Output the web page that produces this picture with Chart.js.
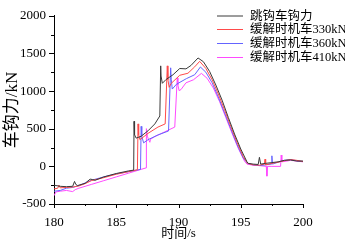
<!DOCTYPE html>
<html>
<head>
<meta charset="utf-8">
<script src="https://cdn.jsdelivr.net/npm/chart.js@4"></script>
<style>
  html, body { margin: 0; padding: 0; background: #fff; }
  canvas { display: block; }
</style>
</head>
<body>
<canvas id="myChart" width="345" height="244"></canvas>
<script>
// series names (legend)
const seriesNames = ['跳钩车钩力', '缓解时机车330kN', '缓解时机车360kN', '缓解时机车410kN'];
const seriesColors = ['#3a3a3a', '#ff4a4a', '#6464ff', '#ff4aff'];

// tick labels
const xTicks = [180, 185, 190, 195, 200];
const yTicks = [-500, 0, 500, 1000, 1500, 2000];

// 跳钩车钩力
const blackT = [180, 180.5, 181, 181.5, 181.65, 181.75, 181.9, 182.5, 182.9, 183.1, 183.3, 184, 185, 186, 186.4,
  186.43, 186.47, 186.6, 187, 187.55, 188.1, 188.5, 188.57, 188.6, 188.7, 189.0, 189.56, 190.1, 190.6, 191.0,
  191.57, 192.0, 192.5, 193.0, 193.5, 194.0, 194.5, 195.0, 195.5, 195.6, 196.0, 196.4, 196.5, 196.6, 197,
  197.5, 198, 198.5, 199, 199.5, 200];
const blackF = [-250, -265, -270, -265, -200, -240, -255, -225, -170, -175, -185, -140, -95, -60, -50,
  598, 420, 375, 400, 472, 564, 669, 1335, 1200, 1103, 1154, 1217, 1300, 1295, 1340,
  1440, 1390, 1260, 1080, 880, 650, 430, 230, 60, 40, 30, 25, 120, 30, 40,
  50, 60, 80, 85, 70, 70];

// 缓解时机车330kN
const redT = [180, 180.3, 180.4, 180.5, 181, 181.5, 182, 182.5, 183, 184, 185, 186, 186.7, 186.75, 186.8,
  186.9, 187.55, 188.35, 188.93, 189.1, 189.15, 189.25, 189.4, 190.1, 190.76, 191.3, 191.7, 192.2, 192.7,
  193.2, 193.7, 194.2, 194.7, 195.2, 195.55, 196.0, 196.5, 196.9, 196.95, 197.0, 197.5, 198, 198.5, 199,
  199.5, 200];
const redF = [-300, -290, -250, -285, -280, -275, -260, -230, -190, -150, -105, -70, -45, 564, 420,
  354, 438, 522, 564, 1335, 1150, 1050, 1100, 1210, 1237, 1322, 1395, 1300, 1150,
  960, 750, 530, 320, 130, 40, 20, 15, 30, 95, 20, 40, 55, 75, 90,
  80, 65];

// 缓解时机车360kN
const blueT = [180, 180.5, 181, 181.5, 182, 183, 184, 185, 186, 186.95, 187.0, 187.05, 187.2, 187.55, 188.35,
  189.2, 189.37, 189.42, 189.5, 189.83, 190.63, 191.3, 191.76, 192.2, 192.7, 193.2, 193.7, 194.2, 194.7,
  195.2, 195.55, 196, 196.5, 197, 197.45, 197.5, 197.55, 198, 198.5, 199, 199.5, 200];
const blueF = [-330, -320, -290, -280, -255, -185, -140, -100, -70, -40, 531, 400, 312, 354, 417,
  470, 1309, 1150, 1027, 1090, 1165, 1217, 1320, 1250, 1110, 920, 710, 500, 290,
  110, 40, 20, 10, 20, 30, 140, 30, 55, 80, 90, 75, 65];

// 缓解时机车410kN
const pinkT = [180, 180.15, 180.5, 181, 181.5, 181.7, 182, 183, 184, 185, 186, 187, 187.4, 187.42, 187.5,
  187.6, 187.7, 187.75, 188.1, 188.9, 189.7, 189.9, 189.95, 190.05, 190.2, 190.6, 191.2, 191.84, 192.3,
  192.8, 193.3, 193.8, 194.3, 194.8, 195.3, 195.5, 196, 196.5, 197.05, 197.1, 197.15, 197.5, 198.2,
  198.25, 198.3, 198.7, 199, 199.5, 200];
const pinkF = [-390, -340, -330, -320, -335, -310, -290, -240, -190, -140, -90, -40, -20, 501, 400,
  354, 320, 360, 396, 459, 522, 1175, 1080, 1006, 1020, 1110, 1150, 1235, 1170,
  1040, 860, 650, 440, 240, 70, 30, 15, 10, 0, -130, 0, 0, 0,
  150, 60, 70, 80, 70, 60];

function toPoints(ts, fs) {
    return ts.map((t, i) => ({ x: t, y: fs[i] }));
}

const serifFont = "'Liberation Serif', 'Noto Sans CJK SC', serif";

// draw outward tick marks (major + minor) and the legend
const decorPlugin = {
    id: 'decor',
    afterDraw(chart) {
        const ctx = chart.ctx;
        const xs = chart.scales.x;
        const ys = chart.scales.y;
        const area = chart.chartArea;
        ctx.save();
        ctx.strokeStyle = '#000';
        ctx.lineWidth = 1;
        ctx.beginPath();
        for (let v = 180; v <= 200; v += 2.5) {
            const px = Math.round(xs.getPixelForValue(v)) + 0.5;
            const len = (v % 5 === 0) ? 4 : 2;
            ctx.moveTo(px, area.bottom);
            ctx.lineTo(px, area.bottom + len);
        }
        for (let v = -500; v <= 2000; v += 250) {
            const py = Math.round(ys.getPixelForValue(v)) + 0.5;
            const len = (v % 500 === 0) ? 5 : 3;
            ctx.moveTo(area.left, py);
            ctx.lineTo(area.left - len, py);
        }
        ctx.stroke();

        // legend
        ctx.font = "12.5px " + serifFont;
        ctx.textBaseline = 'middle';
        ctx.fillStyle = '#000';
        const rowY = [15.5, 29, 43, 57];
        chart.data.datasets.forEach((ds, i) => {
            ctx.strokeStyle = ds.borderColor;
            ctx.beginPath();
            ctx.moveTo(217, rowY[i] + 0.5);
            ctx.lineTo(243, rowY[i] + 0.5);
            ctx.stroke();
            ctx.fillText(ds.label, 250, rowY[i] + 1);
        });
        ctx.restore();
    }
};

const datasets = [
    [blackT, blackF], [redT, redF], [blueT, blueF], [pinkT, pinkF]
].map((s, i) => ({
    label: seriesNames[i],
    data: toPoints(s[0], s[1]),
    borderColor: seriesColors[i],
    borderWidth: 1,
    showLine: true,
    pointRadius: 0,
    tension: 0
}));

const ctx = document.getElementById('myChart').getContext('2d');
window.myChart = new Chart(ctx, {
    type: 'scatter',
    data: { datasets: datasets },
    options: {
        responsive: false,
        animation: false,
        layout: {
            padding: { left: 0, right: 42, top: 6, bottom: 0 }
        },
        plugins: {
            legend: { display: false },
            tooltip: { enabled: false }
        },
        scales: {
            x: {
                type: 'linear',
                min: 180,
                max: 200,
                afterFit: s => { s.height = 40; },
                afterBuildTicks: s => { s.ticks = xTicks.map(v => ({ value: v })); },
                grid: { display: false, drawTicks: false },
                border: { display: true, color: '#000', width: 1 },
                ticks: {
                    color: '#000',
                    padding: 11,
                    maxRotation: 0,
                    callback: v => String(v),
                    font: { family: serifFont, size: 13 }
                },
                title: {
                    display: true,
                    text: '时间/s',
                    color: '#000',
                    padding: { top: 0, bottom: 3 },
                    font: { family: serifFont, size: 13 }
                }
            },
            y: {
                type: 'linear',
                min: -500,
                max: 2000,
                afterFit: s => { s.width = 54; },
                afterBuildTicks: s => { s.ticks = yTicks.map(v => ({ value: v })); },
                grid: { display: false, drawTicks: false },
                border: { display: true, color: '#000', width: 1 },
                ticks: {
                    color: '#000',
                    padding: 8,
                    callback: v => String(v),
                    font: { family: serifFont, size: 13 }
                },
                title: {
                    display: true,
                    text: '车钩力/kN',
                    color: '#000',
                    padding: { top: 2, bottom: 0 },
                    font: { family: serifFont, size: 17 }
                }
            }
        }
    },
    plugins: [decorPlugin]
});
</script>
</body>
</html>
